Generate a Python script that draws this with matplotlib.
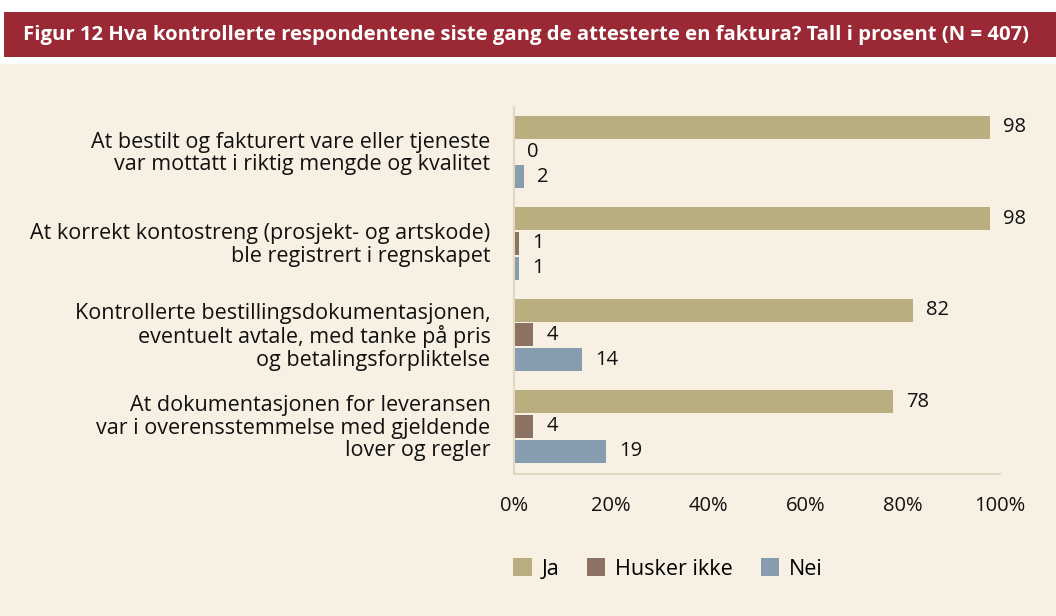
import matplotlib.pyplot as plt
import numpy as np
from matplotlib.patches import Rectangle

categories = [
    'At bestilt og fakturert vare eller tjeneste\nvar mottatt i riktig mengde og kvalitet',
    'At korrekt kontostreng (prosjekt- og artskode)\nble registrert i regnskapet',
    'Kontrollerte bestillingsdokumentasjonen,\neventuelt avtale, med tanke på pris\nog betalingsforpliktelse',
    'At dokumentasjonen for leveransen\nvar i overensstemmelse med gjeldende\nlover og regler',
]
ja = [98, 98, 82, 78]
husker = [0, 1, 4, 4]
nei = [2, 1, 14, 19]
series = ['Ja', 'Husker ikke', 'Nei']
colors = ['#B8AE80', '#8B7262', '#869DB0']
title = 'Figur 12 Hva kontrollerte respondentene siste gang de attesterte en faktura? Tall i prosent (N = 407)'

plt.rcParams['font.family'] = ['Open Sans', 'DejaVu Sans']
fs = 14.5

fig = plt.figure(figsize=(10.56, 6.16), dpi=100, facecolor='white')
fig.add_artist(Rectangle((0, 0), 1, 1 - 64/616, transform=fig.transFigure,
                         facecolor='#F8F0E2', edgecolor='none', zorder=0))
fig.add_artist(Rectangle((4/1056, 1 - 57/616), 1, 45/616, transform=fig.transFigure,
                         facecolor='#9B2935', edgecolor='none', zorder=0))
fig.text(23/1056, 1 - 35/616, title, color='white', fontsize=14.6, fontweight='bold',
         va='center', ha='left')

ax = fig.add_axes([514/1056, 1 - 474/616, 486/1056, (474 - 107)/616])
ax.set_facecolor('none')

y = np.arange(len(categories))
h = 0.25
offsets = [-0.27, 0, 0.27]
for vals, off, c, name in zip([ja, husker, nei], offsets, colors, series):
    ax.barh(y + off, vals, height=h, color=c, label=name)
    for yy, v in zip(y + off, vals):
        ax.text(v + 2.7, yy, str(v), va='center', ha='left', fontsize=fs, color='#111111')

ax.set_xlim(0, 100)
ax.set_ylim(3.52, -0.49)
ax.set_yticks(y - 0.015)
ax.set_yticklabels(categories, fontsize=15.5, linespacing=1.08, color='#111111')
ax.set_xticks([0, 20, 40, 60, 80, 100])
ax.set_xticklabels(['0%', '20%', '40%', '60%', '80%', '100%'], fontsize=fs, color='#111111')
ax.tick_params(axis='both', length=0)
ax.tick_params(axis='y', pad=17)
ax.tick_params(axis='x', pad=16)
for s in ['top', 'right']:
    ax.spines[s].set_visible(False)
for s in ['left', 'bottom']:
    ax.spines[s].set_color('#E0D8C0')
    ax.spines[s].set_linewidth(1.5)

ax.legend(loc='center', bbox_to_anchor=(668/1056, 1 - 569/616), bbox_transform=fig.transFigure,
          ncol=3, frameon=False, fontsize=15.5, handlelength=0.85, handleheight=0.85,
          columnspacing=1.3, handletextpad=0.45)

plt.savefig('out.png', dpi=100)
